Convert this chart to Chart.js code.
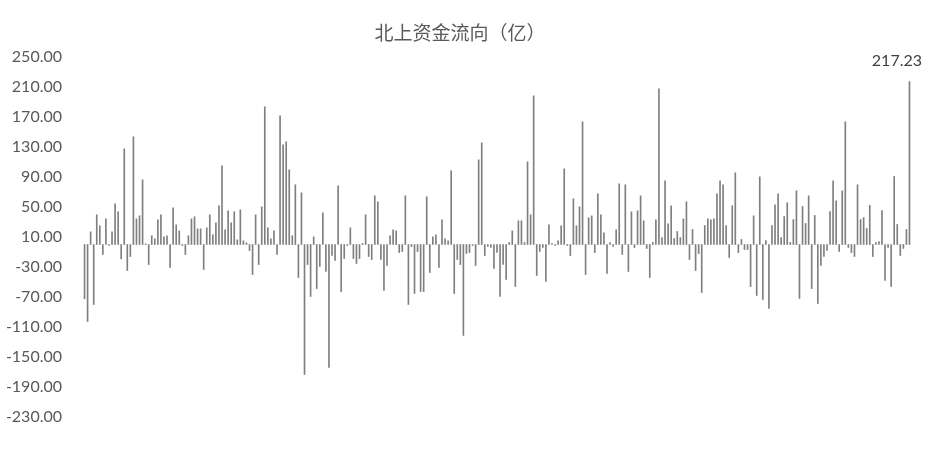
<!DOCTYPE html>
<html>
<head>
<meta charset="utf-8">
<script src="https://cdn.jsdelivr.net/npm/chart.js@4/dist/chart.umd.min.js"></script>
<style>
  html, body { margin: 0; padding: 0; background: #fff; }
  #wrap { width: 927px; height: 453px; }
</style>
</head>
<body>
<div id="wrap"><canvas id="flowChart" width="927" height="453"></canvas></div>
<script>
// 北上资金每日净流入（亿）
const flowValues = [
  -72.4, -102.7, 16.9, -80, 39.6, 24.9, -13.3, 34.2, -1.3, 16.9,
  54.2, 43.6, -19.1, 127.6, -34.7, -16, 143.6, 34.2, 38.2, 86.2,
  0.9, -26.7, 11.6, 7.6, 32.9, 39.6, 10.2, 11.6, -30.7, 48.9,
  26.2, 18.2, -1.3, -13.3, 11.6, 34.2, 36.9, 20.9, 20.9, -33.3,
  22.2, 39.6, 12.9, 28.9, 51.6,
  104.9, 19.6, 44.9, 28.9, 43.6, 6.2, 46.2, 4.9, 2.2, -8,
  -40, 39.6, -26.7, 50.2, 183.6, 22.2, 7.6, 18.2, -13.3, 171.6,
  132.9, 136.9, 99.6, 11.6, 79.6, -44, 68.9, -173.3, -26.7, -69.3,
  10.2, -58.7, -29.3, 42.2, -36, -164, -14.7, -21.3, 78.2, -62.7,
  -18.7, -1.3, 22.2, -18.7,
  -25.3, -18.7, 1.3, 39.6, -16, -20, 64.9, 56.9, -20, -61.3,
  -28, 11.6, 19.6, 18.2, -10.7, -9.3, 64.9, -80, -2.7, -65.3,
  -9.3, -62.7, -62.7, 63.6, -37.3, 10.2, 12.9, -30.7, 32.9, 7.6,
  4.9, 98.2, -65.3, -20, -26.7, -121.3, -12, -10.7, -1.3, -28,
  112.9, 135.6, -14.7, -2.7,
  -4, -32, -10.7, -69.3, -26.7, -46.7, 2.7, 18.2, -56, 31.6,
  31.6, 2.7, 110.2, 39.6, 198.2, -41.3, -9.3, -4, -49.3, 26.2,
  1.3, -1.3, 4.9, 24.9, 100.9, -1.3, -14.7, 60.9, 24.9, 50.2,
  163.6, -40, 35.6, 38.2, -10.7, 67.6, 39.6, 15.6, -38.7, 2.7,
  -2.7, 19.6, 80.9, -13.3,
  79.6, -36, 43.6, -4, 44.9, 64.9, 31.6, -5.3, -44, 2.7,
  32.9, 207.6, 9.3, 84.9, 27.6, 51.6, 8, 17.3, 9.3, 34.2,
  56.9, -20, 20, -34.7, -12, -64, 25.3, 34.2, 32.9, 34.2,
  67.6, 84.9, 79.6, 25.3, -17.3, 51.6, 95.6, -10.7, 6.7, -6.7,
  -6.7, -56, 38.2, -68, 90.2, -73.3, 5.3, -85.3,
  25.3, 52.9, 67.6, 9.3, 37.3, 55.6, 2.7, 33.3, 71.6, -72,
  50.7, 28, 64.9, -58.7, 38.7, -78.7, -28, -16, -8, 44,
  84.9, 58.2, -9.3, 71.6, 163.6, -4, -10.7, -16, 79.6, 33.3,
  36, 21.3, 52, -16, 2.7, 4, 45.3, -48, -4, -56,
  90.7, 26.7, -14.7, -5.3, 20, 217.23
];
const categories = flowValues.map((_, i) => String(i + 1));
const yTicks = [250, 210, 170, 130, 90, 50, 10, -30, -70, -110, -150, -190, -230];
const labelledIndex = [flowValues.length - 1];

const titleText = '北上资金流向（亿）';
const textColor = '#595959';
const numFont = 'Lato, "Noto Sans", sans-serif';

// 标题，画在画布上方
const titlePlugin = {
  id: 'topTitle',
  afterDraw(chart) {
    const ctx = chart.ctx;
    ctx.save();
    ctx.font = '19px "Noto Sans CJK SC", sans-serif';
    ctx.fillStyle = textColor;
    ctx.textAlign = 'center';
    ctx.textBaseline = 'middle';
    ctx.fillText(titleText, 460, 33);
    ctx.restore();
  }
};

// 最后一根柱子的数据标签
const valueLabelPlugin = {
  id: 'valueLabel',
  afterDatasetsDraw(chart) {
    const ctx = chart.ctx;
    const meta = chart.getDatasetMeta(0);
    ctx.save();
    ctx.font = '16px ' + numFont;
    ctx.fillStyle = '#404040';
    ctx.textBaseline = 'middle';
    ctx.textAlign = 'center';
    labelledIndex.forEach(i => {
      const bar = meta.data[i];
      const txt = flowValues[i].toFixed(2);
      const w = ctx.measureText(txt).width;
      const x = Math.min(bar.x, chart.width - 5 - w / 2);
      ctx.fillText(txt, x, bar.y - 21);
    });
    ctx.restore();
  }
};

new Chart(document.getElementById('flowChart'), {
  type: 'bar',
  data: {
    labels: categories,
    datasets: [{
      data: flowValues,
      backgroundColor: '#7f7f7f',
      borderWidth: 0,
      barThickness: 1
    }]
  },
  options: {
    responsive: false,
    animation: false,
    layout: { padding: { top: 57, bottom: 36, left: 0, right: 16 } },
    plugins: {
      legend: { display: false },
      title: { display: false },
      tooltip: { enabled: false }
    },
    scales: {
      x: {
        display: false,
        grid: { display: false }
      },
      y: {
        min: -230,
        max: 250,
        afterBuildTicks: scale => { scale.ticks = yTicks.map(v => ({ value: v })); },
        afterFit: scale => { scale.width = 83; },
        grid: { display: false, drawTicks: false },
        border: { display: false },
        ticks: {
          padding: 21,
          color: textColor,
          font: { family: numFont, size: 16 },
          callback: v => Number(v).toFixed(2)
        }
      }
    }
  },
  plugins: [titlePlugin, valueLabelPlugin]
});
</script>
</body>
</html>
